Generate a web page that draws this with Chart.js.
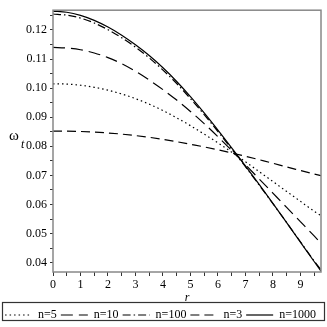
<!DOCTYPE html>
<html>
<head>
<meta charset="utf-8">
<script src="https://cdn.jsdelivr.net/npm/chart.js@4.4.1/dist/chart.umd.min.js"></script>
<style>
  html, body { margin: 0; padding: 0; background: #fff; }
  #wrap { width: 327px; height: 327px; }
</style>
</head>
<body>
<div id="wrap"><canvas id="omega-chart"></canvas></div>
<script>
// r values and omega_t curves
var rValues = [0, 0.5, 1, 1.5, 2, 2.5, 3, 3.5, 4, 4.5, 5, 5.5, 6, 6.5, 7, 7.5, 8, 8.5, 9, 9.5, 9.75];
var n5    = [.1015, .1014, .1010, .1003, .0993, .0980, .0964, .0945, .0923, .0898, .0871, .0842, .0812, .0780, .0747, .0713, .0679, .0645, .0611, .0577, .0562];
var n10   = [.1140, .1138, .1132, .1121, .1105, .1084, .1058, .1028, .0995, .0959, .0920, .0878, .0833, .0786, .0737, .0688, .0639, .0590, .0541, .0492, .0467];
var n100  = [.1255, .1251, .1241, .1224, .1201, .1173, .1141, .1104, .1062, .1016, .0964, .0909, .0851, .0791, .0730, .0667, .0603, .0538, .0472, .0406, .0376];
var n3    = [.0852, .0852, .0851, .0849, .0846, .0842, .0837, .0831, .0824, .0816, .0807, .0798, .0788, .0777, .0766, .0754, .0742, .0729, .0717, .0705, .0699];
var n1000 = [.1265, .1261, .1250, .1233, .1210, .1182, .1149, .1112, .1070, .1023, .0971, .0915, .0856, .0795, .0733, .0669, .0604, .0538, .0471, .0404, .0371];

var seriesLabels = ["n=5", "n=10", "n=100", "n=3", "n=1000"];
var xTicks = [0, 0.5, 1, 1.5, 2, 2.5, 3, 3.5, 4, 4.5, 5, 5.5, 6, 6.5, 7, 7.5, 8, 8.5, 9, 9.5];
var yTicks = [0.04, 0.045, 0.05, 0.055, 0.06, 0.065, 0.07, 0.075, 0.08, 0.085, 0.09, 0.095, 0.10, 0.105, 0.11, 0.115, 0.12, 0.125];

var serif = '"Liberation Serif", "DejaVu Serif", serif';

function pts(ys) {
    return ys.map(function (y, i) { return { x: rValues[i], y: y }; });
}

function line(label, ys, dash) {
    return {
        label: label,
        data: pts(ys),
        borderColor: "#000",
        backgroundColor: "#000",
        borderWidth: 1.2,
        borderDash: dash,
        pointRadius: 0,
        cubicInterpolationMode: "monotone",
        fill: false
    };
}

// frame around plot, y label, legend box
var decorations = {
    id: "decorations",
    afterDraw: function (chart) {
        var c = chart.ctx, a = chart.chartArea;
        c.save();
        c.strokeStyle = "#888";
        c.lineWidth = 1.5;
        c.strokeRect(a.left, a.top, a.right - a.left, a.bottom - a.top);

        c.fillStyle = "#000";
        c.textBaseline = "middle";
        c.font = "15px " + serif;
        c.fillText("\u03c9", 9, 136);
        c.font = "italic 12px " + serif;
        c.fillText("t", 21, 145);

        c.strokeStyle = "#333";
        c.lineWidth = 1.2;
        c.strokeRect(2.5, 302.5, 322, 18);
        c.restore();
    }
};

var ctx = document.getElementById("omega-chart").getContext("2d");
var omegaChart = new Chart(ctx, {
    type: "line",
    data: {
        datasets: [
            line(seriesLabels[0], n5, [1.5, 3]),
            line(seriesLabels[1], n10, [12, 6]),
            line(seriesLabels[2], n100, [8, 3, 1.5, 3]),
            line(seriesLabels[3], n3, [9, 5]),
            line(seriesLabels[4], n1000, [])
        ]
    },
    options: {
        responsive: true,
        maintainAspectRatio: false,
        animation: false,
        layout: { padding: { top: 5, right: 6, bottom: -4, left: 0 } },
        plugins: {
            tooltip: { enabled: false },
            legend: {
                position: "bottom",
                labels: {
                    usePointStyle: true,
                    pointStyle: "line",
                    pointStyleWidth: 27,
                    padding: 4,
                    color: "#000",
                    font: { family: serif, size: 12 },
                    generateLabels: function (chart) {
                        var items = Chart.defaults.plugins.legend.labels.generateLabels(chart);
                        items.forEach(function (it) {
                            var ds = chart.data.datasets[it.datasetIndex];
                            it.lineDash = ds.borderDash;
                            it.lineWidth = 1.2;
                            it.strokeStyle = "#000";
                        });
                        return items;
                    }
                }
            }
        },
        scales: {
            x: {
                type: "linear",
                min: 0,
                max: 9.75,
                afterFit: function (s) { s.height = 33; },
                afterBuildTicks: function (s) { s.ticks = xTicks.map(function (v) { return { value: v }; }); },
                grid: { display: true, drawOnChartArea: false, tickLength: 4, color: "#333" },
                border: { display: false },
                ticks: {
                    padding: 2,
                    maxRotation: 0,
                    autoSkip: false,
                    color: "#000",
                    font: { family: serif, size: 12 },
                    callback: function (v) { return Number.isInteger(v) ? String(v) : ""; }
                },
                title: {
                    display: true,
                    text: "r",
                    color: "#000",
                    padding: { top: 0, bottom: 0 },
                    font: { family: serif, size: 12, style: "italic" }
                }
            },
            y: {
                min: 0.0368,
                max: 0.1268,
                afterFit: function (s) { s.width = 53; },
                afterBuildTicks: function (s) { s.ticks = yTicks.map(function (v) { return { value: v }; }); },
                grid: { display: true, drawOnChartArea: false, tickLength: 3, color: "#333" },
                border: { display: false },
                ticks: {
                    padding: 3,
                    autoSkip: false,
                    color: "#000",
                    font: { family: serif, size: 12 },
                    callback: function (v) {
                        var k = v * 100;
                        return Math.abs(k - Math.round(k)) < 1e-6 ? v.toFixed(2) : "";
                    }
                }
            }
        }
    },
    plugins: [decorations]
});
</script>
</body>
</html>
